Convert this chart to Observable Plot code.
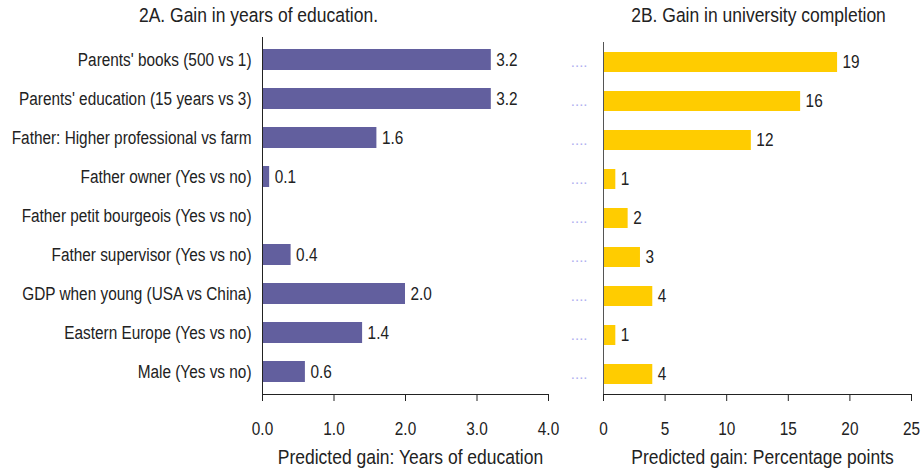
<!DOCTYPE html>
<html><head><meta charset="utf-8">
<script src="https://cdn.jsdelivr.net/npm/d3@7"></script>
<script src="https://cdn.jsdelivr.net/npm/@observablehq/plot@0.6"></script>
<style>
body{margin:0;background:#fff;font-family:"Liberation Sans",Arial,sans-serif;}
#wrap{display:flex;width:924px;height:471px;}
svg{overflow:visible}
</style></head>
<body><div id="wrap"></div>
<script>
const categories = [
  "Parents' books (500 vs 1)",
  "Parents' education (15 years vs 3)",
  "Father: Higher professional vs farm",
  "Father owner (Yes vs no)",
  "Father petit bourgeois (Yes vs no)",
  "Father supervisor (Yes vs no)",
  "GDP when young (USA vs China)",
  "Eastern Europe (Yes vs no)",
  "Male (Yes vs no)"
];
const educationGain = [3.2, 3.2, 1.6, 0.1, null, 0.4, 2.0, 1.4, 0.6];
const universityGain = [19, 16, 12, 1, 2, 3, 4, 1, 4];
const educationTicks = [0, 1, 2, 3, 4];
const universityTicks = [0, 5, 10, 15, 20, 25];
const titleA = "2A. Gain in years of education.";
const titleB = "2B. Gain in university completion";
const labelA = "Predicted gain: Years of education";
const labelB = "Predicted gain: Percentage points";

const dataA = categories.map((c, i) => ({cat: c, v: educationGain[i]}));
const dataB = categories.map((c, i) => ({cat: c, v: universityGain[i]}));

const font = "Liberation Sans, Arial, sans-serif";
const fs = 18;
const fsTitle = 20.5;

const left = Plot.plot({
  width: 560, height: 471,
  marginLeft: 262, marginRight: 12, marginTop: 37, marginBottom: 77,
  style: {fontFamily: font, fontSize: fs + "px", color: "#222", background: "white"},
  x: {domain: [0, 4], ticks: educationTicks},
  y: {domain: categories, paddingInner: 0.47, paddingOuter: 0.2},
  marks: [
    Plot.barX(dataA.filter(d => d.v != null), {x: "v", y: "cat", fill: "#625f9e"}),
    Plot.text(dataA.filter(d => d.v != null), {x: "v", y: "cat", text: d => d.v.toFixed(1), textAnchor: "start", dx: 5, fontSize: fs, fill: "#222"}),
    Plot.axisY({tickSize: 0, tickPadding: 11, label: null, fontSize: fs}),
    Plot.axisX({ticks: educationTicks, tickFormat: d3.format(".1f"), tickSize: 7, tickPadding: 21, fontSize: fs, label: null}),
    Plot.frame({anchor: "bottom", stroke: "#222"}),
    Plot.ruleX([0], {stroke: "#222"}),
    Plot.text([labelA], {frameAnchor: "bottom", dy: 63, dx: 5, lineAnchor: "middle", fontSize: fsTitle, fill: "#222"}),
    Plot.text([titleA], {frameAnchor: "top", dy: -22, dx: -147, lineAnchor: "middle", fontSize: fsTitle, fill: "#222"})
  ]
});

const right = Plot.plot({
  width: 364, height: 471,
  marginLeft: 43, marginRight: 13, marginTop: 42, marginBottom: 77,
  style: {fontFamily: font, fontSize: fs + "px", color: "#222", background: "white"},
  x: {domain: [0, 25], ticks: universityTicks},
  y: {domain: categories, paddingInner: 0.5, paddingOuter: 0.24},
  marks: [
    Plot.barX(dataB, {x: "v", y: "cat", fill: "#ffcc00"}),
    Plot.text(dataB, {x: "v", y: "cat", text: d => String(d.v), textAnchor: "start", dx: 5, fontSize: fs, fill: "#222"}),
    Plot.axisY({tickSize: 0, tickPadding: 16, label: null, tickFormat: () => "....", fill: "#b0b0f0", fontSize: 15}),
    Plot.axisX({ticks: universityTicks, tickSize: 7, tickPadding: 21, fontSize: fs, label: null}),
    Plot.frame({anchor: "bottom", stroke: "#222"}),
    Plot.ruleX([0], {stroke: "#555"}),
    Plot.text([labelB], {frameAnchor: "bottom", dy: 63, dx: 5, lineAnchor: "middle", fontSize: fsTitle, fill: "#222"}),
    Plot.text([titleB], {frameAnchor: "top", dy: -27, dx: 1, lineAnchor: "middle", fontSize: fsTitle, fill: "#222"})
  ]
});

document.getElementById("wrap").append(left, right);

// Condense texts horizontally (reference uses a narrow sans face)
const squeeze = 0.853;
function condense(el) {
  if (/^\.+$/.test(el.textContent)) return;
  const w = el.getComputedTextLength();
  if (w > 0) { el.setAttribute("textLength", (w * squeeze).toFixed(2)); el.setAttribute("lengthAdjust", "spacingAndGlyphs"); }
}
for (const svg of [left, right]) {
  svg.querySelectorAll("text").forEach(t => {
    const spans = t.querySelectorAll("tspan");
    if (spans.length) spans.forEach(condense); else condense(t);
  });
}
</script></body></html>
